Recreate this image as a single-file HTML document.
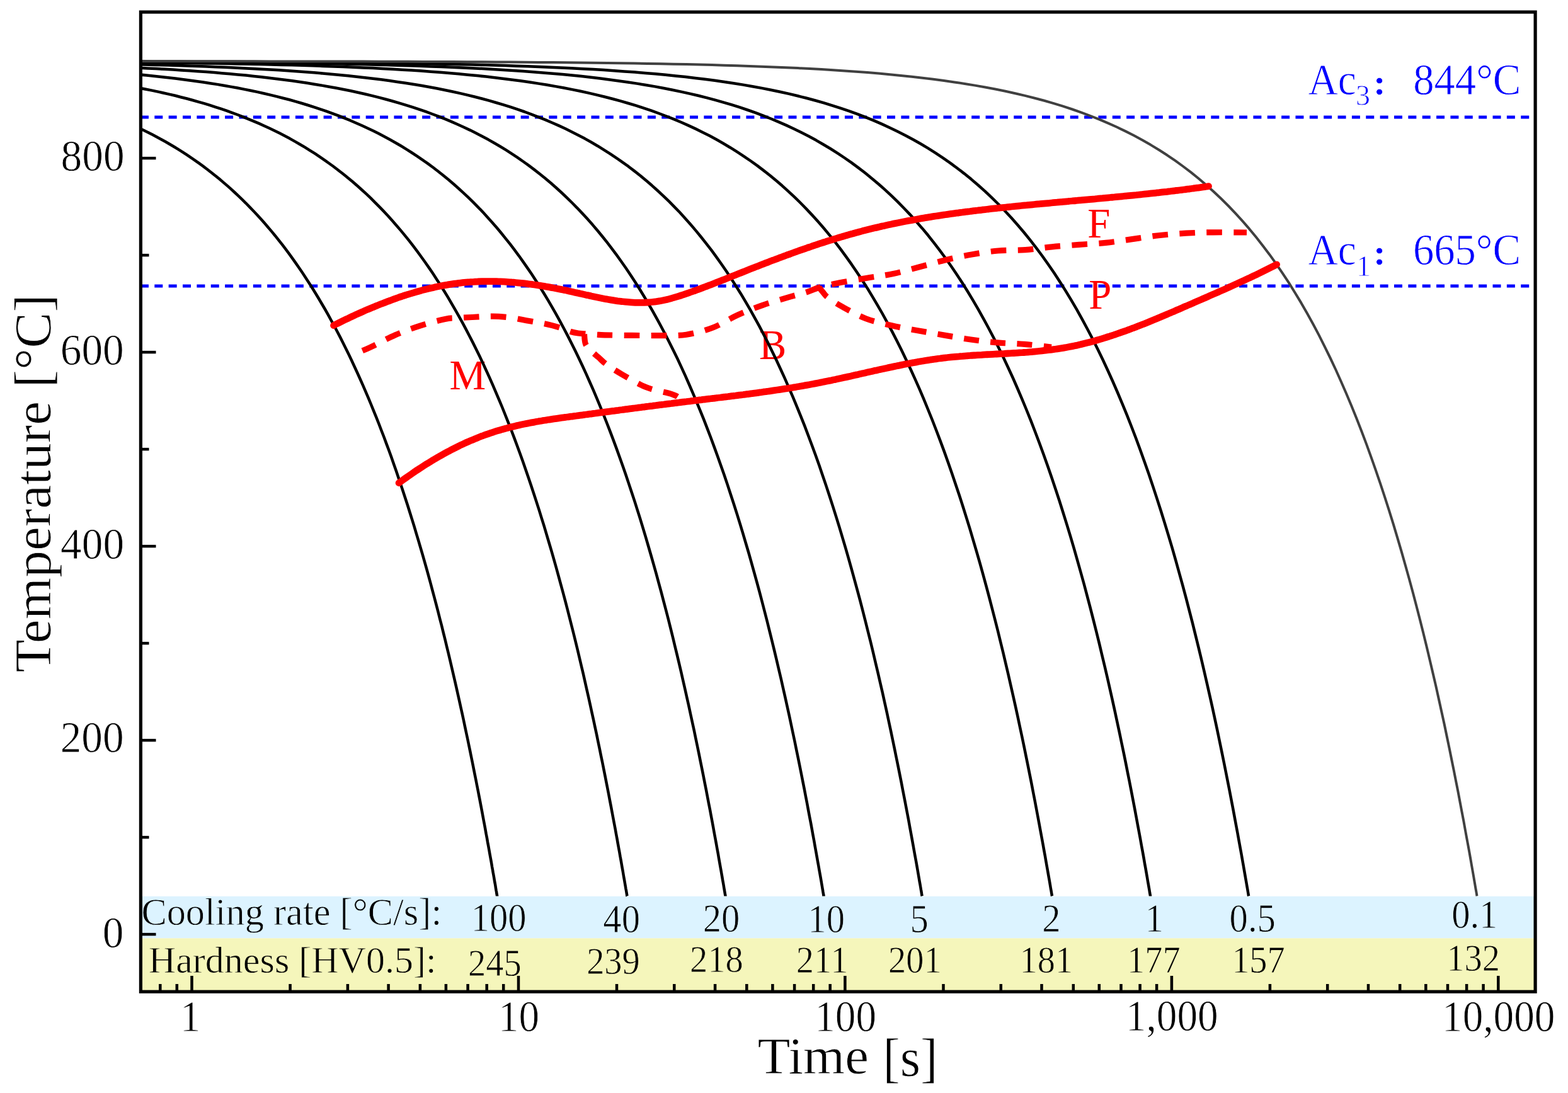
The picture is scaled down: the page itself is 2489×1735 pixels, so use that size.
<!DOCTYPE html>
<html><head><meta charset="utf-8"><title>CCT diagram</title>
<style>html,body{margin:0;padding:0;background:#fff;}svg{display:block;}text{font-family:"Liberation Serif","Times New Roman",serif;}</style>
</head><body>
<svg xmlns="http://www.w3.org/2000/svg" width="2489" height="1735" viewBox="0 0 2489 1735">
<defs><clipPath id="pa"><rect x="226" y="21.7" width="2208.5" height="1549.9"/></clipPath></defs>
<rect x="0" y="0" width="2489" height="1735" fill="#fff"/>
<rect x="223.4" y="1422.8" width="2213.7" height="66.6" fill="#dcf3ff"/>
<rect x="223.4" y="1489.4" width="2213.7" height="84.8" fill="#f5f6bb"/>
<line x1="222.94" y1="186" x2="2427.6" y2="186" stroke="#0000ff" stroke-width="4.8" stroke-dasharray="13 9.36"/>
<line x1="222.94" y1="454" x2="2427.6" y2="454" stroke="#0000ff" stroke-width="4.8" stroke-dasharray="13 9.36"/>
<text transform="matrix(0.9827 0 0 1.0372 713.61 618.25)" font-size="66" fill="#ff0000">M</text>
<text transform="matrix(0.9827 0 0 1.0372 1205.12 570.35)" font-size="66" fill="#ff0000">B</text>
<text transform="matrix(0.9827 0 0 1.0372 1726.36 377.35)" font-size="66" fill="#ff0000">F</text>
<text transform="matrix(0.9827 0 0 1.0372 1728.36 490.45)" font-size="66" fill="#ff0000">P</text>
<g clip-path="url(#pa)" fill="none" stroke-linejoin="round">
<path d="M221,203.4 L228,206.8 L235.1,210.2 L242.1,213.8 L249,217.5 L255.9,221.2 L262.8,225 L269.6,229 L276.4,233 L283.1,237.1 L289.8,241.3 L296.4,245.7 L303,250.1 L309.5,254.6 L316,259.2 L322.5,263.9 L328.9,268.7 L335.3,273.7 L341.6,278.7 L347.9,283.8 L354.1,289.1 L360.3,294.4 L366.5,299.9 L372.6,305.5 L378.6,311.1 L384.6,316.9 L390.6,322.8 L396.5,328.9 L402.4,335 L408.3,341.2 L414,347.6 L419.8,354.1 L425.5,360.7 L431.2,367.4 L436.8,374.2 L442.3,381.2 L447.9,388.2 L453.4,395.4 L458.8,402.7 L464.2,410.1 L469.5,417.6 L474.8,425.3 L480.1,433 L485.3,440.9 L490.5,448.9 L495.6,457 L500.7,465.2 L505.7,473.5 L510.7,482 L515.7,490.5 L520.6,499.2 L525.4,508 L530.3,516.8 L535,525.8 L539.8,534.9 L544.4,544.1 L549.1,553.4 L553.7,562.8 L558.2,572.3 L562.7,582 L567.2,591.7 L571.6,601.5 L576,611.3 L580.3,621.3 L584.6,631.4 L588.8,641.5 L593,651.8 L597.2,662.1 L601.3,672.5 L605.3,683 L609.4,693.5 L613.3,704.1 L617.3,714.8 L621.2,725.6 L625,736.4 L628.8,747.3 L632.5,758.2 L636.2,769.1 L639.9,780.2 L643.5,791.2 L647.1,802.3 L650.6,813.5 L654.1,824.6 L657.6,835.9 L660.9,847.1 L664.3,858.3 L667.6,869.6 L670.9,880.9 L674.1,892.1 L677.3,903.4 L680.4,914.7 L683.5,926 L686.5,937.3 L689.5,948.5 L692.5,959.8 L695.4,971 L698.2,982.2 L701.1,993.3 L703.8,1004.4 L706.6,1015.5 L709.2,1026.5 L711.9,1037.5 L714.5,1048.4 L717,1059.2 L719.5,1070 L722,1080.7 L724.4,1091.3 L726.8,1101.9 L729.1,1112.3 L731.4,1122.7 L733.7,1132.9 L735.9,1143.1 L738,1153.2 L740.1,1163.1 L742.2,1172.9 L744.2,1182.6 L746.2,1192.2 L748.1,1201.6 L750,1210.9 L751.8,1220 L753.6,1229 L755.4,1237.9 L757.1,1246.6 L758.8,1255.1 L760.4,1263.5 L762,1271.7 L763.5,1279.7 L765,1287.5 L766.4,1295.2 L767.8,1302.6 L769.2,1309.9 L770.5,1317 L771.7,1323.9 L773,1330.5 L774.1,1337 L775.3,1343.2 L776.4,1349.3 L777.4,1355.1 L778.4,1360.7 L779.4,1366 L780.3,1371.2 L781.1,1376.1 L782,1380.8 L782.7,1385.2 L783.5,1389.4 L784.2,1393.4 L784.8,1397.1 L785.4,1400.5 L786,1403.7 L786.5,1406.7 L786.9,1409.4 L787.3,1411.9 L787.7,1414.1 L788.1,1416 L788.3,1417.7 L788.6,1419.2 L788.8,1420.3 L788.9,1421.2 L789.1,1421.9 L789.1,1422.3 L789.1,1422.4" stroke="#000" stroke-width="4.5"/>
<path d="M221,139.6 L230.6,141.5 L240.2,143.4 L249.7,145.4 L259.2,147.5 L268.6,149.6 L278,151.8 L287.2,154.2 L296.5,156.5 L305.6,159 L314.7,161.6 L323.8,164.2 L332.8,166.9 L341.7,169.8 L350.6,172.7 L359.4,175.7 L368.1,178.8 L376.8,182 L385.4,185.3 L394,188.8 L402.5,192.3 L410.9,195.9 L419.3,199.7 L427.6,203.5 L435.9,207.5 L444.1,211.6 L452.2,215.8 L460.3,220.1 L468.3,224.6 L476.3,229.2 L484.2,233.9 L492,238.8 L499.8,243.7 L507.5,248.8 L515.1,254.1 L522.7,259.5 L530.3,265 L537.7,270.7 L545.2,276.5 L552.5,282.4 L559.8,288.5 L567,294.8 L574.2,301.2 L581.3,307.7 L588.4,314.4 L595.3,321.3 L602.3,328.3 L609.1,335.4 L616,342.7 L622.7,350.2 L629.4,357.9 L636,365.6 L642.6,373.6 L649.1,381.7 L655.5,389.9 L661.9,398.4 L668.2,407 L674.5,415.7 L680.7,424.6 L686.8,433.6 L692.9,442.9 L698.9,452.2 L704.9,461.8 L710.8,471.4 L716.6,481.3 L722.4,491.3 L728.1,501.4 L733.8,511.7 L739.4,522.1 L744.9,532.7 L750.4,543.4 L755.8,554.3 L761.2,565.3 L766.5,576.4 L771.7,587.7 L776.9,599.1 L782,610.6 L787,622.3 L792,634.1 L797,646 L801.8,658 L806.6,670.1 L811.4,682.3 L816.1,694.6 L820.7,707 L825.3,719.5 L829.8,732.1 L834.2,744.8 L838.6,757.5 L842.9,770.3 L847.2,783.2 L851.4,796.1 L855.6,809.1 L859.6,822.1 L863.7,835.2 L867.6,848.3 L871.5,861.5 L875.4,874.6 L879.2,887.8 L882.9,901 L886.5,914.1 L890.1,927.3 L893.7,940.5 L897.2,953.6 L900.6,966.7 L903.9,979.8 L907.2,992.8 L910.5,1005.8 L913.7,1018.7 L916.8,1031.5 L919.8,1044.3 L922.8,1057 L925.8,1069.6 L928.6,1082.1 L931.4,1094.4 L934.2,1106.7 L936.9,1118.9 L939.5,1130.9 L942.1,1142.7 L944.6,1154.5 L947.1,1166 L949.4,1177.4 L951.8,1188.7 L954,1199.7 L956.3,1210.6 L958.4,1221.3 L960.5,1231.8 L962.5,1242 L964.5,1252.1 L966.4,1261.9 L968.2,1271.5 L970,1280.8 L971.7,1289.9 L973.4,1298.8 L975,1307.3 L976.6,1315.7 L978,1323.7 L979.5,1331.5 L980.8,1339 L982.1,1346.2 L983.4,1353.1 L984.5,1359.7 L985.7,1366 L986.7,1371.9 L987.7,1377.6 L988.7,1383 L989.5,1388 L990.3,1392.7 L991.1,1397 L991.8,1401.1 L992.4,1404.7 L993,1408.1 L993.5,1411.1 L994,1413.7 L994.4,1416 L994.7,1418 L995,1419.6 L995.2,1420.8 L995.3,1421.7 L995.4,1422.2 L995.5,1422.4" stroke="#000" stroke-width="4.5"/>
<path d="M221,118.4 L232.5,119.5 L244.1,120.7 L255.5,121.9 L266.9,123.2 L278.2,124.5 L289.4,125.9 L300.6,127.4 L311.7,128.9 L322.7,130.5 L333.6,132.2 L344.5,133.9 L355.3,135.7 L366,137.6 L376.7,139.5 L387.3,141.6 L397.8,143.7 L408.2,145.9 L418.6,148.2 L428.8,150.6 L439.1,153.1 L449.2,155.7 L459.3,158.3 L469.3,161.1 L479.2,164 L489,167 L498.8,170.1 L508.5,173.3 L518.2,176.7 L527.7,180.1 L537.2,183.7 L546.6,187.4 L556,191.2 L565.2,195.2 L574.4,199.2 L583.5,203.5 L592.6,207.8 L601.6,212.3 L610.5,217 L619.3,221.8 L628.1,226.7 L636.8,231.8 L645.4,237.1 L653.9,242.5 L662.4,248.1 L670.8,253.8 L679.1,259.7 L687.4,265.8 L695.5,272 L703.7,278.4 L711.7,285 L719.6,291.8 L727.5,298.7 L735.3,305.8 L743.1,313.1 L750.8,320.6 L758.4,328.3 L765.9,336.1 L773.3,344.2 L780.7,352.4 L788,360.8 L795.3,369.5 L802.4,378.3 L809.5,387.2 L816.5,396.4 L823.5,405.8 L830.3,415.4 L837.1,425.1 L843.9,435.1 L850.5,445.2 L857.1,455.5 L863.6,466 L870,476.7 L876.4,487.6 L882.7,498.7 L888.9,509.9 L895,521.3 L901.1,532.9 L907.1,544.7 L913,556.6 L918.9,568.7 L924.7,581 L930.4,593.4 L936,606 L941.6,618.7 L947.1,631.6 L952.5,644.6 L957.8,657.7 L963.1,671 L968.3,684.4 L973.4,697.9 L978.5,711.6 L983.4,725.3 L988.4,739.2 L993.2,753.1 L997.9,767.1 L1002.6,781.2 L1007.3,795.4 L1011.8,809.6 L1016.3,823.9 L1020.7,838.3 L1025,852.6 L1029.2,867 L1033.4,881.5 L1037.5,895.9 L1041.6,910.4 L1045.5,924.8 L1049.4,939.2 L1053.2,953.6 L1057,968 L1060.7,982.3 L1064.3,996.6 L1067.8,1010.7 L1071.2,1024.9 L1074.6,1038.9 L1077.9,1052.8 L1081.2,1066.7 L1084.3,1080.4 L1087.4,1094 L1090.4,1107.4 L1093.4,1120.7 L1096.2,1133.9 L1099,1146.8 L1101.8,1159.6 L1104.4,1172.2 L1107,1184.6 L1109.5,1196.8 L1111.9,1208.7 L1114.3,1220.5 L1116.6,1232 L1118.8,1243.2 L1121,1254.2 L1123,1264.9 L1125,1275.3 L1127,1285.4 L1128.8,1295.2 L1130.6,1304.7 L1132.3,1313.9 L1133.9,1322.8 L1135.5,1331.3 L1137,1339.5 L1138.4,1347.4 L1139.8,1354.9 L1141,1362 L1142.2,1368.8 L1143.3,1375.1 L1144.4,1381.1 L1145.4,1386.8 L1146.3,1392 L1147.1,1396.8 L1147.9,1401.2 L1148.6,1405.2 L1149.2,1408.8 L1149.7,1412 L1150.2,1414.7 L1150.6,1417.1 L1150.9,1419 L1151.2,1420.5 L1151.4,1421.6 L1151.5,1422.2 L1151.5,1422.4" stroke="#000" stroke-width="4.5"/>
<path d="M221,107.7 L234.5,108.4 L247.9,109.1 L261.3,109.8 L274.6,110.6 L287.8,111.4 L300.9,112.3 L314,113.2 L326.9,114.1 L339.8,115.1 L352.5,116.2 L365.2,117.3 L377.8,118.4 L390.4,119.6 L402.8,120.9 L415.1,122.3 L427.4,123.7 L439.6,125.2 L451.7,126.7 L463.7,128.3 L475.6,130 L487.5,131.8 L499.2,133.7 L510.9,135.6 L522.5,137.7 L534,139.8 L545.4,142 L556.8,144.3 L568,146.7 L579.2,149.3 L590.2,151.9 L601.2,154.6 L612.1,157.5 L623,160.5 L633.7,163.6 L644.4,166.8 L654.9,170.1 L665.4,173.6 L675.8,177.2 L686.1,181 L696.4,184.9 L706.5,188.9 L716.6,193.1 L726.5,197.5 L736.4,202 L746.2,206.6 L756,211.5 L765.6,216.5 L775.1,221.6 L784.6,227 L794,232.5 L803.3,238.2 L812.5,244.1 L821.6,250.2 L830.7,256.5 L839.6,262.9 L848.5,269.6 L857.3,276.5 L866,283.5 L874.6,290.8 L883.1,298.3 L891.6,306 L899.9,313.9 L908.2,322 L916.4,330.3 L924.5,338.9 L932.5,347.6 L940.5,356.6 L948.3,365.8 L956.1,375.3 L963.8,384.9 L971.4,394.8 L978.9,404.9 L986.3,415.2 L993.7,425.8 L1000.9,436.6 L1008.1,447.5 L1015.2,458.8 L1022.2,470.2 L1029.1,481.8 L1035.9,493.7 L1042.7,505.8 L1049.3,518 L1055.9,530.5 L1062.4,543.2 L1068.8,556.1 L1075.2,569.1 L1081.4,582.4 L1087.6,595.9 L1093.6,609.5 L1099.6,623.3 L1105.5,637.3 L1111.3,651.4 L1117.1,665.7 L1122.7,680.1 L1128.3,694.7 L1133.7,709.4 L1139.1,724.2 L1144.4,739.2 L1149.7,754.3 L1154.8,769.4 L1159.8,784.7 L1164.8,800 L1169.7,815.4 L1174.5,830.9 L1179.2,846.4 L1183.8,862 L1188.4,877.5 L1192.8,893.1 L1197.2,908.8 L1201.5,924.4 L1205.7,939.9 L1209.8,955.5 L1213.8,971 L1217.8,986.5 L1221.6,1001.9 L1225.4,1017.2 L1229.1,1032.4 L1232.7,1047.5 L1236.2,1062.5 L1239.7,1077.3 L1243,1092 L1246.3,1106.6 L1249.5,1121 L1252.6,1135.1 L1255.6,1149.1 L1258.5,1162.9 L1261.4,1176.4 L1264.1,1189.8 L1266.8,1202.8 L1269.4,1215.6 L1271.9,1228.1 L1274.3,1240.3 L1276.7,1252.2 L1278.9,1263.8 L1281.1,1275.1 L1283.1,1286 L1285.1,1296.6 L1287.1,1306.8 L1288.9,1316.7 L1290.6,1326.2 L1292.3,1335.2 L1293.8,1343.9 L1295.3,1352.1 L1296.7,1360 L1298,1367.4 L1299.3,1374.3 L1300.4,1380.9 L1301.5,1386.9 L1302.5,1392.5 L1303.4,1397.7 L1304.2,1402.3 L1304.9,1406.5 L1305.5,1410.2 L1306.1,1413.5 L1306.5,1416.2 L1306.9,1418.4 L1307.2,1420.2 L1307.4,1421.4 L1307.6,1422.2 L1307.6,1422.4" stroke="#000" stroke-width="4.5"/>
<path d="M221,102.4 L236.4,102.8 L251.8,103.2 L267.1,103.6 L282.3,104.1 L297.4,104.6 L312.4,105.1 L327.3,105.6 L342.1,106.2 L356.8,106.8 L371.4,107.5 L386,108.2 L400.4,108.9 L414.7,109.7 L428.9,110.5 L443,111.3 L457.1,112.3 L471,113.2 L484.8,114.3 L498.6,115.3 L512.2,116.5 L525.8,117.7 L539.2,118.9 L552.6,120.3 L565.8,121.7 L579,123.2 L592,124.7 L605,126.3 L617.8,128.1 L630.6,129.9 L643.3,131.8 L655.9,133.8 L668.3,135.8 L680.7,138 L693,140.3 L705.2,142.7 L717.3,145.3 L729.3,147.9 L741.1,150.6 L752.9,153.5 L764.6,156.5 L776.2,159.7 L787.7,163 L799.2,166.4 L810.5,169.9 L821.7,173.7 L832.8,177.5 L843.8,181.6 L854.7,185.8 L865.6,190.1 L876.3,194.7 L886.9,199.4 L897.5,204.3 L907.9,209.4 L918.2,214.7 L928.5,220.1 L938.6,225.8 L948.7,231.7 L958.6,237.8 L968.5,244.1 L978.2,250.6 L987.9,257.3 L997.5,264.2 L1006.9,271.4 L1016.3,278.8 L1025.6,286.5 L1034.7,294.3 L1043.8,302.5 L1052.8,310.8 L1061.7,319.4 L1070.5,328.3 L1079.2,337.3 L1087.7,346.7 L1096.2,356.3 L1104.6,366.1 L1112.9,376.2 L1121.1,386.6 L1129.3,397.2 L1137.3,408.1 L1145.2,419.2 L1153,430.6 L1160.7,442.2 L1168.3,454.1 L1175.9,466.2 L1183.3,478.6 L1190.6,491.2 L1197.8,504.1 L1205,517.2 L1212,530.5 L1219,544.1 L1225.8,557.9 L1232.6,571.9 L1239.2,586.2 L1245.8,600.6 L1252.2,615.3 L1258.6,630.1 L1264.8,645.1 L1271,660.3 L1277.1,675.7 L1283,691.3 L1288.9,707 L1294.7,722.8 L1300.4,738.8 L1305.9,754.9 L1311.4,771.1 L1316.8,787.5 L1322.1,803.9 L1327.3,820.4 L1332.4,836.9 L1337.4,853.6 L1342.3,870.2 L1347.1,886.9 L1351.8,903.6 L1356.4,920.3 L1360.9,936.9 L1365.4,953.6 L1369.7,970.2 L1373.9,986.7 L1378,1003.2 L1382.1,1019.5 L1386,1035.8 L1389.8,1051.9 L1393.6,1067.9 L1397.2,1083.7 L1400.8,1099.3 L1404.2,1114.8 L1407.6,1130.1 L1410.8,1145.1 L1414,1159.9 L1417,1174.4 L1420,1188.7 L1422.8,1202.6 L1425.6,1216.3 L1428.3,1229.7 L1430.9,1242.7 L1433.3,1255.3 L1435.7,1267.6 L1438,1279.6 L1440.2,1291.1 L1442.3,1302.2 L1444.2,1312.9 L1446.1,1323.2 L1447.9,1333 L1449.6,1342.4 L1451.2,1351.3 L1452.7,1359.7 L1454.2,1367.6 L1455.5,1375 L1456.7,1381.9 L1457.8,1388.3 L1458.8,1394.2 L1459.7,1399.5 L1460.6,1404.3 L1461.3,1408.5 L1461.9,1412.2 L1462.5,1415.3 L1462.9,1417.9 L1463.2,1419.9 L1463.5,1421.3 L1463.6,1422.1 L1463.7,1422.4" stroke="#000" stroke-width="4.5"/>
<path d="M221,99.2 L239,99.4 L257,99.6 L274.8,99.8 L292.5,100 L310.1,100.3 L327.6,100.5 L345,100.8 L362.2,101.1 L379.4,101.4 L396.4,101.7 L413.3,102.1 L430.2,102.5 L446.9,102.9 L463.4,103.3 L479.9,103.8 L496.3,104.3 L512.5,104.9 L528.6,105.4 L544.7,106 L560.6,106.7 L576.4,107.4 L592,108.1 L607.6,108.9 L623.1,109.8 L638.4,110.7 L653.6,111.6 L668.7,112.6 L683.7,113.7 L698.6,114.8 L713.4,116 L728.1,117.3 L742.6,118.7 L757,120.1 L771.4,121.6 L785.6,123.2 L799.7,124.9 L813.6,126.7 L827.5,128.5 L841.3,130.5 L854.9,132.6 L868.4,134.8 L881.8,137.1 L895.1,139.5 L908.3,142.1 L921.4,144.8 L934.4,147.6 L947.2,150.6 L960,153.7 L972.6,157 L985.1,160.4 L997.5,164 L1009.8,167.7 L1021.9,171.6 L1034,175.7 L1045.9,180 L1057.8,184.5 L1069.5,189.2 L1081.1,194 L1092.6,199.1 L1104,204.4 L1115.2,209.9 L1126.4,215.6 L1137.4,221.6 L1148.3,227.8 L1159.1,234.2 L1169.8,240.9 L1180.4,247.8 L1190.9,255 L1201.3,262.4 L1211.5,270.1 L1221.6,278 L1231.6,286.3 L1241.6,294.8 L1251.3,303.6 L1261,312.6 L1270.6,322 L1280,331.6 L1289.4,341.6 L1298.6,351.8 L1307.7,362.3 L1316.7,373.1 L1325.6,384.2 L1334.4,395.6 L1343,407.4 L1351.6,419.4 L1360,431.7 L1368.3,444.3 L1376.6,457.1 L1384.6,470.3 L1392.6,483.8 L1400.5,497.5 L1408.2,511.6 L1415.9,525.9 L1423.4,540.5 L1430.8,555.3 L1438.1,570.4 L1445.3,585.8 L1452.4,601.4 L1459.4,617.2 L1466.2,633.2 L1472.9,649.5 L1479.6,666 L1486.1,682.7 L1492.5,699.6 L1498.8,716.6 L1504.9,733.8 L1511,751.2 L1516.9,768.7 L1522.8,786.3 L1528.5,804 L1534.1,821.9 L1539.6,839.7 L1544.9,857.7 L1550.2,875.7 L1555.4,893.7 L1560.4,911.7 L1565.3,929.7 L1570.1,947.7 L1574.8,965.7 L1579.4,983.5 L1583.9,1001.3 L1588.2,1019 L1592.5,1036.5 L1596.6,1053.9 L1600.6,1071.1 L1604.5,1088.2 L1608.3,1105 L1612,1121.6 L1615.6,1138 L1619,1154.1 L1622.4,1169.9 L1625.6,1185.3 L1628.7,1200.5 L1631.7,1215.3 L1634.6,1229.7 L1637.4,1243.8 L1640,1257.4 L1642.6,1270.6 L1645,1283.3 L1647.3,1295.6 L1649.5,1307.4 L1651.6,1318.8 L1653.6,1329.6 L1655.5,1339.8 L1657.2,1349.5 L1658.9,1358.7 L1660.4,1367.3 L1661.8,1375.3 L1663.1,1382.7 L1664.3,1389.5 L1665.4,1395.7 L1666.4,1401.3 L1667.2,1406.2 L1667.9,1410.5 L1668.6,1414.1 L1669.1,1417.1 L1669.5,1419.4 L1669.8,1421.1 L1669.9,1422.1 L1670,1422.4" stroke="#000" stroke-width="4.5"/>
<path d="M221,98.2 L241,98.3 L260.8,98.4 L280.6,98.5 L300.2,98.6 L319.7,98.7 L339.1,98.9 L358.3,99.1 L377.4,99.2 L396.4,99.4 L415.3,99.6 L434.1,99.8 L452.7,100.1 L471.2,100.3 L489.6,100.6 L507.8,100.9 L525.9,101.2 L543.9,101.6 L561.8,101.9 L579.5,102.3 L597.1,102.7 L614.6,103.2 L632,103.7 L649.2,104.2 L666.4,104.8 L683.4,105.4 L700.2,106 L717,106.7 L733.6,107.5 L750.1,108.2 L766.4,109.1 L782.7,110 L798.8,110.9 L814.8,112 L830.6,113 L846.4,114.2 L862,115.4 L877.5,116.7 L892.8,118.1 L908.1,119.6 L923.2,121.1 L938.2,122.8 L953,124.5 L967.8,126.4 L982.4,128.4 L996.9,130.4 L1011.2,132.6 L1025.4,135 L1039.6,137.4 L1053.5,140 L1067.4,142.7 L1081.1,145.6 L1094.7,148.6 L1108.2,151.8 L1121.6,155.1 L1134.8,158.6 L1147.9,162.3 L1160.9,166.2 L1173.7,170.2 L1186.5,174.5 L1199.1,178.9 L1211.5,183.6 L1223.9,188.5 L1236.1,193.6 L1248.2,198.9 L1260.2,204.5 L1272,210.3 L1283.8,216.3 L1295.4,222.6 L1306.8,229.2 L1318.2,236 L1329.4,243.1 L1340.5,250.5 L1351.5,258.1 L1362.3,266.1 L1373,274.3 L1383.6,282.9 L1394.1,291.7 L1404.5,300.9 L1414.7,310.3 L1424.8,320.1 L1434.7,330.2 L1444.6,340.6 L1454.3,351.4 L1463.9,362.4 L1473.4,373.8 L1482.7,385.6 L1491.9,397.6 L1501,410 L1510,422.7 L1518.8,435.7 L1527.5,449.1 L1536.1,462.8 L1544.6,476.8 L1552.9,491.1 L1561.1,505.8 L1569.2,520.7 L1577.2,536 L1585,551.5 L1592.7,567.3 L1600.3,583.5 L1607.8,599.8 L1615.1,616.5 L1622.3,633.4 L1629.4,650.5 L1636.4,667.9 L1643.2,685.5 L1649.9,703.3 L1656.5,721.3 L1663,739.4 L1669.3,757.8 L1675.5,776.2 L1681.6,794.8 L1687.5,813.5 L1693.4,832.3 L1699.1,851.2 L1704.7,870.1 L1710.1,889.1 L1715.4,908 L1720.7,927 L1725.7,945.9 L1730.7,964.8 L1735.5,983.6 L1740.2,1002.3 L1744.8,1020.9 L1749.2,1039.4 L1753.6,1057.7 L1757.8,1075.7 L1761.8,1093.6 L1765.8,1111.3 L1769.6,1128.6 L1773.3,1145.7 L1776.9,1162.5 L1780.3,1178.9 L1783.7,1195 L1786.9,1210.7 L1789.9,1226 L1792.9,1240.9 L1795.7,1255.3 L1798.4,1269.3 L1801,1282.7 L1803.4,1295.7 L1805.7,1308.1 L1807.9,1319.9 L1810,1331.2 L1811.9,1341.9 L1813.8,1352 L1815.5,1361.5 L1817,1370.3 L1818.5,1378.5 L1819.8,1386 L1821,1392.9 L1822,1399 L1823,1404.5 L1823.8,1409.2 L1824.5,1413.2 L1825,1416.5 L1825.5,1419.1 L1825.8,1420.9 L1826,1422.1 L1826,1422.4" stroke="#000" stroke-width="4.5"/>
<path d="M221,97.6 L242.9,97.7 L264.7,97.7 L286.4,97.8 L307.9,97.9 L329.3,98 L350.6,98 L371.7,98.1 L392.7,98.2 L413.5,98.3 L434.2,98.5 L454.8,98.6 L475.2,98.7 L495.5,98.9 L515.7,99.1 L535.7,99.2 L555.6,99.4 L575.3,99.7 L594.9,99.9 L614.4,100.1 L633.7,100.4 L652.9,100.7 L672,101 L690.9,101.4 L709.7,101.8 L728.3,102.2 L746.8,102.6 L765.2,103.1 L783.4,103.6 L801.5,104.1 L819.5,104.7 L837.3,105.3 L855,106 L872.5,106.7 L889.9,107.5 L907.2,108.3 L924.3,109.2 L941.3,110.1 L958.2,111.1 L974.9,112.2 L991.5,113.4 L1007.9,114.6 L1024.2,115.9 L1040.4,117.3 L1056.4,118.8 L1072.3,120.4 L1088.1,122.1 L1103.7,123.9 L1119.1,125.8 L1134.5,127.8 L1149.7,130 L1164.8,132.2 L1179.7,134.6 L1194.5,137.2 L1209.1,139.9 L1223.6,142.7 L1238,145.8 L1252.3,148.9 L1266.4,152.3 L1280.3,155.8 L1294.2,159.5 L1307.9,163.4 L1321.4,167.6 L1334.8,171.9 L1348.1,176.4 L1361.2,181.2 L1374.2,186.2 L1387.1,191.4 L1399.8,196.9 L1412.4,202.7 L1424.9,208.7 L1437.2,214.9 L1449.4,221.5 L1461.4,228.3 L1473.3,235.4 L1485.1,242.8 L1496.7,250.6 L1508.2,258.6 L1519.5,267 L1530.7,275.6 L1541.8,284.6 L1552.8,294 L1563.6,303.6 L1574.2,313.7 L1584.8,324 L1595.1,334.7 L1605.4,345.8 L1615.5,357.2 L1625.5,369 L1635.3,381.2 L1645,393.7 L1654.6,406.5 L1664,419.8 L1673.3,433.3 L1682.4,447.3 L1691.5,461.6 L1700.3,476.2 L1709.1,491.2 L1717.7,506.6 L1726.1,522.3 L1734.5,538.3 L1742.6,554.6 L1750.7,571.3 L1758.6,588.2 L1766.4,605.5 L1774,623 L1781.5,640.8 L1788.9,658.9 L1796.1,677.2 L1803.2,695.8 L1810.1,714.5 L1816.9,733.5 L1823.6,752.6 L1830.1,771.9 L1836.5,791.4 L1842.8,811 L1848.9,830.6 L1854.9,850.4 L1860.8,870.2 L1866.5,890.1 L1872,910 L1877.5,929.8 L1882.8,949.6 L1887.9,969.4 L1893,989.1 L1897.8,1008.6 L1902.6,1028.1 L1907.2,1047.3 L1911.7,1066.4 L1916,1085.2 L1920.2,1103.8 L1924.3,1122.1 L1928.2,1140.1 L1932,1157.8 L1935.6,1175.1 L1939.1,1192 L1942.5,1208.6 L1945.7,1224.6 L1948.8,1240.2 L1951.8,1255.4 L1954.6,1270 L1957.3,1284 L1959.8,1297.5 L1962.2,1310.4 L1964.5,1322.7 L1966.6,1334.4 L1968.6,1345.4 L1970.5,1355.7 L1972.2,1365.4 L1973.8,1374.3 L1975.2,1382.5 L1976.5,1390 L1977.7,1396.8 L1978.7,1402.7 L1979.6,1407.9 L1980.4,1412.3 L1981,1416 L1981.5,1418.8 L1981.8,1420.8 L1982,1422 L1982.1,1422.4" stroke="#000" stroke-width="4.5"/>
<path d="M221,97.2 L247.4,97.2 L273.7,97.2 L299.8,97.3 L325.8,97.3 L351.6,97.3 L377.2,97.3 L402.7,97.3 L428,97.4 L453.1,97.4 L478.1,97.4 L502.9,97.5 L527.5,97.5 L552,97.6 L576.3,97.6 L600.5,97.7 L624.4,97.7 L648.2,97.8 L671.9,97.9 L695.3,98 L718.7,98.1 L741.8,98.2 L764.8,98.3 L787.6,98.4 L810.2,98.6 L832.7,98.7 L855,98.9 L877.2,99.1 L899.2,99.3 L921,99.5 L942.6,99.7 L964.1,100 L985.4,100.3 L1006.6,100.6 L1027.6,100.9 L1048.4,101.3 L1069,101.7 L1089.5,102.1 L1109.9,102.6 L1130,103.1 L1150,103.7 L1169.8,104.3 L1189.5,104.9 L1209,105.7 L1228.3,106.4 L1247.5,107.2 L1266.5,108.1 L1285.3,109.1 L1304,110.1 L1322.5,111.3 L1340.8,112.5 L1359,113.7 L1377,115.1 L1394.8,116.6 L1412.5,118.2 L1430,119.9 L1447.3,121.7 L1464.5,123.7 L1481.5,125.8 L1498.3,128 L1515,130.4 L1531.5,132.9 L1547.8,135.6 L1564,138.5 L1580,141.5 L1595.9,144.8 L1611.5,148.2 L1627.1,151.9 L1642.4,155.7 L1657.6,159.8 L1672.6,164.1 L1687.4,168.7 L1702.1,173.5 L1716.6,178.6 L1731,184 L1745.2,189.6 L1759.2,195.6 L1773,201.8 L1786.7,208.4 L1800.3,215.3 L1813.6,222.5 L1826.8,230.1 L1839.8,238 L1852.7,246.3 L1865.4,254.9 L1877.9,264 L1890.3,273.4 L1902.5,283.2 L1914.5,293.4 L1926.3,304 L1938,315 L1949.6,326.5 L1960.9,338.4 L1972.1,350.7 L1983.2,363.4 L1994,376.6 L2004.7,390.2 L2015.3,404.2 L2025.6,418.7 L2035.8,433.6 L2045.9,448.9 L2055.7,464.7 L2065.5,480.9 L2075,497.5 L2084.4,514.5 L2093.6,531.9 L2102.6,549.8 L2111.5,568 L2120.2,586.5 L2128.7,605.5 L2137.1,624.7 L2145.3,644.3 L2153.4,664.2 L2161.3,684.4 L2169,704.9 L2176.5,725.6 L2183.9,746.6 L2191.1,767.7 L2198.2,789.1 L2205.1,810.6 L2211.8,832.2 L2218.3,853.9 L2224.7,875.6 L2230.9,897.5 L2237,919.3 L2242.9,941.1 L2248.6,962.8 L2254.2,984.4 L2259.6,1005.9 L2264.8,1027.3 L2269.8,1048.4 L2274.7,1069.3 L2279.5,1089.9 L2284,1110.3 L2288.4,1130.2 L2292.7,1149.8 L2296.7,1169 L2300.6,1187.7 L2304.3,1206 L2307.9,1223.7 L2311.3,1240.8 L2314.6,1257.4 L2317.6,1273.3 L2320.5,1288.6 L2323.3,1303.1 L2325.8,1317 L2328.2,1330.1 L2330.5,1342.4 L2332.6,1353.9 L2334.5,1364.6 L2336.2,1374.5 L2337.8,1383.5 L2339.2,1391.5 L2340.4,1398.7 L2341.5,1405 L2342.4,1410.3 L2343.2,1414.6 L2343.8,1418 L2344.2,1420.5 L2344.4,1421.9 L2344.5,1422.4" stroke="#404040" stroke-width="4"/>
</g>
<g fill="none" stroke="#ff0000">
<path d="M529.6,516.6 C530.6,516.1 533.6,514.5 535.6,513.6 C537.6,512.6 539.6,511.6 541.6,510.6 C543.6,509.6 545.6,508.6 547.6,507.7 C549.6,506.7 551.6,505.8 553.7,504.8 C555.7,503.9 557.7,502.9 559.7,502 C561.7,501.1 563.7,500.1 565.7,499.2 C567.7,498.3 569.7,497.4 571.7,496.5 C573.7,495.6 575.7,494.7 577.7,493.8 C579.7,493 581.7,492.1 583.7,491.2 C585.7,490.4 587.7,489.5 589.7,488.7 C591.7,487.8 593.7,487 595.7,486.2 C597.7,485.4 599.7,484.5 601.8,483.7 C603.8,482.9 605.8,482.2 607.8,481.4 C609.8,480.6 611.8,479.8 613.8,479.1 C615.8,478.3 617.8,477.5 619.8,476.8 C621.8,476.1 623.8,475.3 625.8,474.6 C627.8,473.9 629.8,473.2 631.8,472.5 C633.8,471.8 635.8,471.1 637.8,470.5 C639.8,469.8 641.8,469.1 643.8,468.5 C645.8,467.9 647.8,467.2 649.9,466.6 C651.9,466 653.9,465.4 655.9,464.8 C657.9,464.2 659.9,463.6 661.9,463 C663.9,462.5 665.9,461.9 667.9,461.4 C669.9,460.8 671.9,460.3 673.9,459.8 C675.9,459.3 677.9,458.8 679.9,458.3 C681.9,457.8 683.9,457.3 685.9,456.9 C687.9,456.4 689.9,456 691.9,455.5 C693.9,455.1 695.9,454.7 698,454.3 C700,453.9 702,453.5 704,453.1 C706,452.8 708,452.4 710,452.1 C712,451.7 714,451.4 716,451.1 C718,450.8 720,450.5 722,450.2 C724,449.9 726,449.7 728,449.4 C730,449.2 732,448.9 734,448.7 C736,448.5 738,448.3 740,448.1 C742,448 744,447.8 746.1,447.7 C748.1,447.5 750.1,447.4 752.1,447.3 C754.1,447.1 756.1,447 758.1,447 C760.1,446.9 762.1,446.8 764.1,446.7 C766.1,446.7 768.1,446.6 770.1,446.6 C772.1,446.6 774.1,446.6 776.1,446.6 C778.1,446.6 780.1,446.6 782.1,446.6 C784.1,446.6 786.1,446.7 788.1,446.7 C790.1,446.8 792.1,446.9 794.2,446.9 C796.2,447 798.2,447.1 800.2,447.2 C802.2,447.3 804.2,447.5 806.2,447.6 C808.2,447.7 810.2,447.9 812.2,448 C814.2,448.2 816.2,448.3 818.2,448.5 C820.2,448.7 822.2,448.9 824.2,449.1 C826.2,449.3 828.2,449.5 830.2,449.7 C832.2,450 834.2,450.2 836.2,450.4 C838.2,450.7 840.2,450.9 842.3,451.2 C844.3,451.5 846.3,451.8 848.3,452 C850.3,452.3 852.3,452.6 854.3,452.9 C856.3,453.2 858.3,453.6 860.3,453.9 C862.3,454.2 864.3,454.5 866.3,454.9 C868.3,455.2 870.3,455.6 872.3,455.9 C874.3,456.3 876.3,456.7 878.3,457 C880.3,457.4 882.3,457.8 884.3,458.2 C886.3,458.6 888.3,459 890.4,459.4 C892.4,459.8 894.4,460.2 896.4,460.6 C898.4,461.1 900.4,461.5 902.4,461.9 C904.4,462.4 906.4,462.8 908.4,463.2 C910.4,463.7 912.4,464.1 914.4,464.6 C916.4,465 918.4,465.5 920.4,465.9 C922.4,466.4 924.4,466.8 926.4,467.3 C928.4,467.7 930.4,468.2 932.4,468.6 C934.4,469.1 936.4,469.5 938.5,470 C940.5,470.4 942.5,470.8 944.5,471.3 C946.5,471.7 948.5,472.1 950.5,472.5 C952.5,472.9 954.5,473.3 956.5,473.7 C958.5,474.1 960.5,474.5 962.5,474.8 C964.5,475.2 966.5,475.6 968.5,475.9 C970.5,476.2 972.5,476.6 974.5,476.9 C976.5,477.2 978.5,477.5 980.5,477.8 C982.5,478 984.5,478.3 986.6,478.5 C988.6,478.8 990.6,479 992.6,479.2 C994.6,479.4 996.6,479.6 998.6,479.7 C1000.6,479.9 1002.6,480 1004.6,480.1 C1006.6,480.2 1008.6,480.3 1010.6,480.3 C1012.6,480.4 1014.6,480.4 1016.6,480.4 C1018.6,480.4 1020.6,480.4 1022.6,480.3 C1024.6,480.2 1026.6,480.1 1028.6,480 C1030.6,479.9 1032.7,479.7 1034.7,479.5 C1036.7,479.3 1038.7,479.1 1040.7,478.8 C1042.7,478.6 1044.7,478.3 1046.7,477.9 C1048.7,477.6 1050.7,477.2 1052.7,476.8 C1054.7,476.4 1056.7,476 1058.7,475.5 C1060.7,475 1062.7,474.5 1064.7,473.9 C1066.7,473.4 1068.7,472.8 1070.7,472.2 C1072.7,471.6 1074.7,471 1076.7,470.4 C1078.7,469.8 1080.8,469.1 1082.8,468.4 C1084.8,467.8 1086.8,467.1 1088.8,466.4 C1090.8,465.7 1092.8,465 1094.8,464.3 C1096.8,463.6 1098.8,462.9 1100.8,462.2 C1102.8,461.5 1104.8,460.7 1106.8,460 C1108.8,459.3 1110.8,458.5 1112.8,457.8 C1114.8,457 1116.8,456.3 1118.8,455.5 C1120.8,454.8 1122.8,454 1124.8,453.2 C1126.8,452.5 1128.9,451.7 1130.9,450.9 C1132.9,450.1 1134.9,449.4 1136.9,448.6 C1138.9,447.8 1140.9,447 1142.9,446.2 C1144.9,445.4 1146.9,444.6 1148.9,443.9 C1150.9,443.1 1152.9,442.3 1154.9,441.5 C1156.9,440.7 1158.9,439.9 1160.9,439.1 C1162.9,438.3 1164.9,437.5 1166.9,436.7 C1168.9,435.9 1170.9,435.1 1172.9,434.3 C1174.9,433.5 1177,432.7 1179,431.9 C1181,431.1 1183,430.3 1185,429.5 C1187,428.7 1189,427.9 1191,427.1 C1193,426.3 1195,425.5 1197,424.7 C1199,423.9 1201,423.2 1203,422.4 C1205,421.6 1207,420.8 1209,420 C1211,419.3 1213,418.5 1215,417.7 C1217,417 1219,416.2 1221,415.4 C1223,414.7 1225.1,413.9 1227.1,413.1 C1229.1,412.4 1231.1,411.6 1233.1,410.9 C1235.1,410.1 1237.1,409.4 1239.1,408.6 C1241.1,407.9 1243.1,407.1 1245.1,406.4 C1247.1,405.7 1249.1,404.9 1251.1,404.2 C1253.1,403.5 1255.1,402.7 1257.1,402 C1259.1,401.3 1261.1,400.6 1263.1,399.8 C1265.1,399.1 1267.1,398.4 1269.1,397.7 C1271.1,397 1273.2,396.3 1275.2,395.6 C1277.2,394.9 1279.2,394.2 1281.2,393.5 C1283.2,392.8 1285.2,392.2 1287.2,391.5 C1289.2,390.8 1291.2,390.1 1293.2,389.4 C1295.2,388.8 1297.2,388.1 1299.2,387.4 C1301.2,386.8 1303.2,386.1 1305.2,385.5 C1307.2,384.8 1309.2,384.2 1311.2,383.5 C1313.2,382.9 1315.2,382.3 1317.2,381.6 C1319.2,381 1321.3,380.4 1323.3,379.8 C1325.3,379.2 1327.3,378.5 1329.3,377.9 C1331.3,377.3 1333.3,376.7 1335.3,376.1 C1337.3,375.5 1339.3,375 1341.3,374.4 C1343.3,373.8 1345.3,373.2 1347.3,372.6 C1349.3,372.1 1351.3,371.5 1353.3,371 C1355.3,370.4 1357.3,369.8 1359.3,369.3 C1361.3,368.8 1363.3,368.2 1365.3,367.7 C1367.3,367.2 1369.4,366.6 1371.4,366.1 C1373.4,365.6 1375.4,365.1 1377.4,364.6 C1379.4,364.1 1381.4,363.6 1383.4,363.1 C1385.4,362.6 1387.4,362.1 1389.4,361.6 C1391.4,361.2 1393.4,360.7 1395.4,360.2 C1397.4,359.8 1399.4,359.3 1401.4,358.8 C1403.4,358.4 1405.4,357.9 1407.4,357.5 C1409.4,357.1 1411.4,356.6 1413.4,356.2 C1415.4,355.8 1417.5,355.3 1419.5,354.9 C1421.5,354.5 1423.5,354.1 1425.5,353.7 C1427.5,353.3 1429.5,352.9 1431.5,352.5 C1433.5,352.1 1435.5,351.7 1437.5,351.3 C1439.5,350.9 1441.5,350.5 1443.5,350.2 C1445.5,349.8 1447.5,349.4 1449.5,349.1 C1451.5,348.7 1453.5,348.3 1455.5,348 C1457.5,347.6 1459.5,347.3 1461.5,346.9 C1463.6,346.6 1465.6,346.2 1467.6,345.9 C1469.6,345.6 1471.6,345.2 1473.6,344.9 C1475.6,344.6 1477.6,344.3 1479.6,343.9 C1481.6,343.6 1483.6,343.3 1485.6,343 C1487.6,342.7 1489.6,342.4 1491.6,342.1 C1493.6,341.8 1495.6,341.5 1497.6,341.2 C1499.6,340.9 1501.6,340.6 1503.6,340.3 C1505.6,340 1507.6,339.7 1509.6,339.4 C1511.7,339.2 1513.7,338.9 1515.7,338.6 C1517.7,338.3 1519.7,338.1 1521.7,337.8 C1523.7,337.5 1525.7,337.3 1527.7,337 C1529.7,336.7 1531.7,336.5 1533.7,336.2 C1535.7,336 1537.7,335.7 1539.7,335.5 C1541.7,335.2 1543.7,335 1545.7,334.7 C1547.7,334.5 1549.7,334.2 1551.7,334 C1553.7,333.8 1555.7,333.5 1557.7,333.3 C1559.8,333.1 1561.8,332.8 1563.8,332.6 C1565.8,332.4 1567.8,332.1 1569.8,331.9 C1571.8,331.7 1573.8,331.5 1575.8,331.2 C1577.8,331 1579.8,330.8 1581.8,330.6 C1583.8,330.4 1585.8,330.1 1587.8,329.9 C1589.8,329.7 1591.8,329.5 1593.8,329.3 C1595.8,329.1 1597.8,328.9 1599.8,328.7 C1601.8,328.5 1603.8,328.2 1605.8,328 C1607.9,327.8 1609.9,327.6 1611.9,327.4 C1613.9,327.2 1615.9,327 1617.9,326.8 C1619.9,326.6 1621.9,326.4 1623.9,326.2 C1625.9,326 1627.9,325.8 1629.9,325.7 C1631.9,325.5 1633.9,325.3 1635.9,325.1 C1637.9,324.9 1639.9,324.7 1641.9,324.5 C1643.9,324.3 1645.9,324.1 1647.9,323.9 C1649.9,323.7 1651.9,323.6 1653.9,323.4 C1656,323.2 1658,323 1660,322.8 C1662,322.6 1664,322.4 1666,322.3 C1668,322.1 1670,321.9 1672,321.7 C1674,321.5 1676,321.3 1678,321.2 C1680,321 1682,320.8 1684,320.6 C1686,320.4 1688,320.3 1690,320.1 C1692,319.9 1694,319.7 1696,319.5 C1698,319.4 1700,319.2 1702,319 C1704.1,318.8 1706.1,318.6 1708.1,318.5 C1710.1,318.3 1712.1,318.1 1714.1,317.9 C1716.1,317.7 1718.1,317.6 1720.1,317.4 C1722.1,317.2 1724.1,317 1726.1,316.8 C1728.1,316.7 1730.1,316.5 1732.1,316.3 C1734.1,316.1 1736.1,315.9 1738.1,315.8 C1740.1,315.6 1742.1,315.4 1744.1,315.2 C1746.1,315 1748.1,314.8 1750.1,314.7 C1752.2,314.5 1754.2,314.3 1756.2,314.1 C1758.2,313.9 1760.2,313.7 1762.2,313.5 C1764.2,313.3 1766.2,313.2 1768.2,313 C1770.2,312.8 1772.2,312.6 1774.2,312.4 C1776.2,312.2 1778.2,312 1780.2,311.8 C1782.2,311.6 1784.2,311.4 1786.2,311.2 C1788.2,311 1790.2,310.9 1792.2,310.7 C1794.2,310.5 1796.2,310.3 1798.2,310.1 C1800.3,309.9 1802.3,309.7 1804.3,309.5 C1806.3,309.2 1808.3,309 1810.3,308.8 C1812.3,308.6 1814.3,308.4 1816.3,308.2 C1818.3,308 1820.3,307.8 1822.3,307.6 C1824.3,307.4 1826.3,307.2 1828.3,306.9 C1830.3,306.7 1832.3,306.5 1834.3,306.3 C1836.3,306.1 1838.3,305.8 1840.3,305.6 C1842.3,305.4 1844.3,305.2 1846.3,304.9 C1848.4,304.7 1850.4,304.5 1852.4,304.3 C1854.4,304 1856.4,303.8 1858.4,303.5 C1860.4,303.3 1862.4,303.1 1864.4,302.8 C1866.4,302.6 1868.4,302.3 1870.4,302.1 C1872.4,301.9 1874.4,301.6 1876.4,301.4 C1878.4,301.1 1880.4,300.9 1882.4,300.6 C1884.4,300.3 1886.4,300.1 1888.4,299.8 C1890.4,299.6 1892.4,299.3 1894.4,299 C1896.5,298.8 1898.5,298.5 1900.5,298.2 C1902.5,297.9 1904.5,297.7 1906.5,297.4 C1908.5,297.1 1910.5,296.8 1912.5,296.6 C1914.5,296.3 1917.5,295.8 1918.5,295.7" stroke-width="10.8" stroke-linecap="round" stroke-linejoin="round"/>
<path d="M633.1,766.7 C634.1,765.9 637.1,763.7 639.1,762.3 C641.1,760.8 643.1,759.4 645.1,758 C647.1,756.6 649.1,755.2 651.1,753.8 C653.1,752.4 655.1,751 657.1,749.6 C659.1,748.3 661.1,746.9 663.1,745.6 C665.1,744.3 667.1,743 669.1,741.7 C671.1,740.4 673.1,739.1 675.1,737.8 C677.1,736.6 679.1,735.3 681.2,734.1 C683.2,732.9 685.2,731.6 687.2,730.4 C689.2,729.2 691.2,728.1 693.2,726.9 C695.2,725.7 697.2,724.6 699.2,723.4 C701.2,722.3 703.2,721.2 705.2,720.1 C707.2,719 709.2,717.9 711.2,716.8 C713.2,715.7 715.2,714.7 717.2,713.6 C719.2,712.6 721.2,711.6 723.2,710.6 C725.2,709.6 727.2,708.6 729.2,707.6 C731.2,706.7 733.2,705.7 735.2,704.8 C737.2,703.9 739.2,702.9 741.2,702 C743.2,701.1 745.2,700.3 747.2,699.4 C749.2,698.5 751.2,697.7 753.2,696.9 C755.2,696 757.2,695.2 759.2,694.4 C761.2,693.6 763.2,692.9 765.2,692.1 C767.2,691.4 769.2,690.6 771.2,689.9 C773.3,689.2 775.3,688.5 777.3,687.8 C779.3,687.1 781.3,686.5 783.3,685.8 C785.3,685.2 787.3,684.6 789.3,683.9 C791.3,683.3 793.3,682.7 795.3,682.2 C797.3,681.6 799.3,681 801.3,680.5 C803.3,679.9 805.3,679.4 807.3,678.9 C809.3,678.4 811.3,677.8 813.3,677.4 C815.3,676.9 817.3,676.4 819.3,675.9 C821.3,675.5 823.3,675 825.3,674.6 C827.3,674.1 829.3,673.7 831.3,673.3 C833.3,672.9 835.3,672.5 837.3,672.1 C839.3,671.7 841.3,671.3 843.3,670.9 C845.3,670.5 847.3,670.1 849.3,669.8 C851.3,669.4 853.3,669.1 855.3,668.7 C857.3,668.4 859.3,668.1 861.3,667.7 C863.3,667.4 865.4,667.1 867.4,666.8 C869.4,666.5 871.4,666.1 873.4,665.8 C875.4,665.5 877.4,665.2 879.4,664.9 C881.4,664.7 883.4,664.4 885.4,664.1 C887.4,663.8 889.4,663.5 891.4,663.2 C893.4,663 895.4,662.7 897.4,662.4 C899.4,662.1 901.4,661.9 903.4,661.6 C905.4,661.3 907.4,661.1 909.4,660.8 C911.4,660.5 913.4,660.3 915.4,660 C917.4,659.7 919.4,659.5 921.4,659.2 C923.4,658.9 925.4,658.7 927.4,658.4 C929.4,658.1 931.4,657.9 933.4,657.6 C935.4,657.3 937.4,657.1 939.4,656.8 C941.4,656.5 943.4,656.3 945.4,656 C947.4,655.7 949.4,655.5 951.4,655.2 C953.4,655 955.4,654.7 957.4,654.4 C959.5,654.2 961.5,653.9 963.5,653.6 C965.5,653.4 967.5,653.1 969.5,652.8 C971.5,652.6 973.5,652.3 975.5,652.1 C977.5,651.8 979.5,651.5 981.5,651.3 C983.5,651 985.5,650.7 987.5,650.5 C989.5,650.2 991.5,650 993.5,649.7 C995.5,649.4 997.5,649.2 999.5,648.9 C1001.5,648.7 1003.5,648.4 1005.5,648.1 C1007.5,647.9 1009.5,647.6 1011.5,647.4 C1013.5,647.1 1015.5,646.8 1017.5,646.6 C1019.5,646.3 1021.5,646.1 1023.5,645.8 C1025.5,645.5 1027.5,645.3 1029.5,645 C1031.5,644.8 1033.5,644.5 1035.5,644.3 C1037.5,644 1039.5,643.8 1041.5,643.5 C1043.5,643.2 1045.5,643 1047.5,642.7 C1049.5,642.5 1051.6,642.2 1053.6,642 C1055.6,641.7 1057.6,641.5 1059.6,641.2 C1061.6,641 1063.6,640.7 1065.6,640.5 C1067.6,640.2 1069.6,640 1071.6,639.7 C1073.6,639.5 1075.6,639.2 1077.6,639 C1079.6,638.7 1081.6,638.5 1083.6,638.2 C1085.6,638 1087.6,637.7 1089.6,637.5 C1091.6,637.2 1093.6,637 1095.6,636.8 C1097.6,636.5 1099.6,636.3 1101.6,636 C1103.6,635.8 1105.6,635.5 1107.6,635.3 C1109.6,635.1 1111.6,634.8 1113.6,634.6 C1115.6,634.3 1117.6,634.1 1119.6,633.8 C1121.6,633.6 1123.6,633.4 1125.6,633.1 C1127.6,632.9 1129.6,632.6 1131.6,632.4 C1133.6,632.2 1135.6,631.9 1137.6,631.7 C1139.6,631.4 1141.6,631.2 1143.6,631 C1145.7,630.7 1147.7,630.5 1149.7,630.2 C1151.7,630 1153.7,629.7 1155.7,629.5 C1157.7,629.2 1159.7,629 1161.7,628.7 C1163.7,628.5 1165.7,628.2 1167.7,628 C1169.7,627.7 1171.7,627.5 1173.7,627.2 C1175.7,627 1177.7,626.7 1179.7,626.5 C1181.7,626.2 1183.7,626 1185.7,625.7 C1187.7,625.4 1189.7,625.2 1191.7,624.9 C1193.7,624.7 1195.7,624.4 1197.7,624.1 C1199.7,623.9 1201.7,623.6 1203.7,623.3 C1205.7,623 1207.7,622.8 1209.7,622.5 C1211.7,622.2 1213.7,621.9 1215.7,621.7 C1217.7,621.4 1219.7,621.1 1221.7,620.8 C1223.7,620.5 1225.7,620.2 1227.7,619.9 C1229.7,619.6 1231.7,619.3 1233.7,619 C1235.7,618.7 1237.8,618.4 1239.8,618.1 C1241.8,617.8 1243.8,617.5 1245.8,617.2 C1247.8,616.9 1249.8,616.6 1251.8,616.2 C1253.8,615.9 1255.8,615.6 1257.8,615.3 C1259.8,614.9 1261.8,614.6 1263.8,614.3 C1265.8,613.9 1267.8,613.6 1269.8,613.2 C1271.8,612.9 1273.8,612.6 1275.8,612.2 C1277.8,611.8 1279.8,611.5 1281.8,611.1 C1283.8,610.8 1285.8,610.4 1287.8,610 C1289.8,609.6 1291.8,609.3 1293.8,608.9 C1295.8,608.5 1297.8,608.1 1299.8,607.7 C1301.8,607.3 1303.8,606.9 1305.8,606.5 C1307.8,606.1 1309.8,605.7 1311.8,605.3 C1313.8,604.9 1315.8,604.5 1317.8,604.1 C1319.8,603.7 1321.8,603.2 1323.8,602.8 C1325.8,602.4 1327.8,601.9 1329.8,601.5 C1331.9,601.1 1333.9,600.6 1335.9,600.2 C1337.9,599.8 1339.9,599.3 1341.9,598.9 C1343.9,598.4 1345.9,598 1347.9,597.6 C1349.9,597.1 1351.9,596.7 1353.9,596.2 C1355.9,595.8 1357.9,595.3 1359.9,594.9 C1361.9,594.4 1363.9,594 1365.9,593.5 C1367.9,593.1 1369.9,592.6 1371.9,592.2 C1373.9,591.7 1375.9,591.3 1377.9,590.8 C1379.9,590.3 1381.9,589.9 1383.9,589.5 C1385.9,589 1387.9,588.6 1389.9,588.1 C1391.9,587.7 1393.9,587.2 1395.9,586.8 C1397.9,586.3 1399.9,585.9 1401.9,585.5 C1403.9,585 1405.9,584.6 1407.9,584.2 C1409.9,583.7 1411.9,583.3 1413.9,582.9 C1415.9,582.4 1417.9,582 1419.9,581.6 C1421.9,581.2 1424,580.8 1426,580.4 C1428,579.9 1430,579.5 1432,579.1 C1434,578.7 1436,578.3 1438,577.9 C1440,577.6 1442,577.2 1444,576.8 C1446,576.4 1448,576 1450,575.7 C1452,575.3 1454,574.9 1456,574.6 C1458,574.2 1460,573.9 1462,573.5 C1464,573.2 1466,572.9 1468,572.5 C1470,572.2 1472,571.9 1474,571.6 C1476,571.3 1478,570.9 1480,570.7 C1482,570.4 1484,570.1 1486,569.8 C1488,569.5 1490,569.2 1492,569 C1494,568.7 1496,568.5 1498,568.2 C1500,568 1502,567.7 1504,567.5 C1506,567.3 1508,567.1 1510,566.9 C1512,566.7 1514,566.5 1516.1,566.3 C1518.1,566.1 1520.1,565.9 1522.1,565.8 C1524.1,565.6 1526.1,565.4 1528.1,565.3 C1530.1,565.1 1532.1,564.9 1534.1,564.8 C1536.1,564.7 1538.1,564.5 1540.1,564.4 C1542.1,564.2 1544.1,564.1 1546.1,564 C1548.1,563.9 1550.1,563.7 1552.1,563.6 C1554.1,563.5 1556.1,563.4 1558.1,563.3 C1560.1,563.1 1562.1,563 1564.1,562.9 C1566.1,562.8 1568.1,562.7 1570.1,562.6 C1572.1,562.5 1574.1,562.4 1576.1,562.3 C1578.1,562.2 1580.1,562.1 1582.1,562 C1584.1,561.9 1586.1,561.8 1588.1,561.7 C1590.1,561.6 1592.1,561.5 1594.1,561.4 C1596.1,561.2 1598.1,561.1 1600.1,561 C1602.1,560.9 1604.1,560.8 1606.1,560.7 C1608.1,560.6 1610.2,560.4 1612.2,560.3 C1614.2,560.2 1616.2,560.1 1618.2,559.9 C1620.2,559.8 1622.2,559.7 1624.2,559.5 C1626.2,559.4 1628.2,559.2 1630.2,559.1 C1632.2,558.9 1634.2,558.8 1636.2,558.6 C1638.2,558.4 1640.2,558.3 1642.2,558.1 C1644.2,557.9 1646.2,557.7 1648.2,557.5 C1650.2,557.3 1652.2,557.1 1654.2,556.9 C1656.2,556.7 1658.2,556.5 1660.2,556.2 C1662.2,556 1664.2,555.8 1666.2,555.5 C1668.2,555.2 1670.2,555 1672.2,554.7 C1674.2,554.4 1676.2,554.1 1678.2,553.8 C1680.2,553.5 1682.2,553.2 1684.2,552.9 C1686.2,552.6 1688.2,552.3 1690.2,551.9 C1692.2,551.6 1694.2,551.2 1696.2,550.8 C1698.2,550.4 1700.2,550 1702.3,549.6 C1704.3,549.2 1706.3,548.8 1708.3,548.4 C1710.3,547.9 1712.3,547.5 1714.3,547 C1716.3,546.6 1718.3,546.1 1720.3,545.6 C1722.3,545.1 1724.3,544.6 1726.3,544.1 C1728.3,543.6 1730.3,543.1 1732.3,542.5 C1734.3,542 1736.3,541.4 1738.3,540.9 C1740.3,540.3 1742.3,539.7 1744.3,539.1 C1746.3,538.5 1748.3,537.9 1750.3,537.3 C1752.3,536.7 1754.3,536.1 1756.3,535.5 C1758.3,534.8 1760.3,534.2 1762.3,533.5 C1764.3,532.9 1766.3,532.2 1768.3,531.6 C1770.3,530.9 1772.3,530.2 1774.3,529.5 C1776.3,528.8 1778.3,528.1 1780.3,527.4 C1782.3,526.7 1784.3,526 1786.3,525.3 C1788.3,524.6 1790.3,523.8 1792.3,523.1 C1794.3,522.3 1796.4,521.6 1798.4,520.8 C1800.4,520.1 1802.4,519.3 1804.4,518.6 C1806.4,517.8 1808.4,517 1810.4,516.2 C1812.4,515.4 1814.4,514.7 1816.4,513.9 C1818.4,513.1 1820.4,512.3 1822.4,511.5 C1824.4,510.7 1826.4,509.8 1828.4,509 C1830.4,508.2 1832.4,507.4 1834.4,506.6 C1836.4,505.7 1838.4,504.9 1840.4,504.1 C1842.4,503.2 1844.4,502.4 1846.4,501.5 C1848.4,500.7 1850.4,499.9 1852.4,499 C1854.4,498.2 1856.4,497.3 1858.4,496.4 C1860.4,495.6 1862.4,494.7 1864.4,493.9 C1866.4,493 1868.4,492.1 1870.4,491.3 C1872.4,490.4 1874.4,489.5 1876.4,488.7 C1878.4,487.8 1880.4,486.9 1882.4,486.1 C1884.4,485.2 1886.4,484.3 1888.5,483.4 C1890.5,482.6 1892.5,481.7 1894.5,480.8 C1896.5,480 1898.5,479.1 1900.5,478.2 C1902.5,477.3 1904.5,476.5 1906.5,475.6 C1908.5,474.7 1910.5,473.8 1912.5,473 C1914.5,472.1 1916.5,471.2 1918.5,470.3 C1920.5,469.5 1922.5,468.6 1924.5,467.7 C1926.5,466.8 1928.5,466 1930.5,465.1 C1932.5,464.2 1934.5,463.3 1936.5,462.4 C1938.5,461.5 1940.5,460.7 1942.5,459.8 C1944.5,458.9 1946.5,458 1948.5,457.1 C1950.5,456.2 1952.5,455.3 1954.5,454.4 C1956.5,453.5 1958.5,452.6 1960.5,451.7 C1962.5,450.8 1964.5,449.9 1966.5,448.9 C1968.5,448 1970.5,447.1 1972.5,446.2 C1974.5,445.3 1976.5,444.3 1978.5,443.4 C1980.6,442.5 1982.6,441.5 1984.6,440.6 C1986.6,439.6 1988.6,438.7 1990.6,437.7 C1992.6,436.8 1994.6,435.8 1996.6,434.8 C1998.6,433.9 2000.6,432.9 2002.6,431.9 C2004.6,430.9 2006.6,429.9 2008.6,428.9 C2010.6,427.9 2012.6,426.9 2014.6,425.9 C2016.6,424.9 2018.6,423.9 2020.6,422.9 C2022.6,421.8 2025.6,420.3 2026.6,419.8" stroke-width="10.8" stroke-linecap="round" stroke-linejoin="round"/>
<path d="M575.3,556.7 C577.4,555.8 579,555.5 587.7,551.4 C596.4,547.2 614.5,537.5 627.5,531.8 C640.5,526.1 652.8,521.6 666,517.4 C679.2,513.2 696.3,508.5 706.6,506.4 C716.9,504.3 720.8,505.1 728,504.6 C735.2,504.1 742.6,503.9 749.6,503.5 C756.6,503.1 763,502.6 770,502.4 C777,502.2 784.5,502 791.7,502.4 C798.9,502.8 805.7,503.4 813,504.5 C820.3,505.6 828.1,507.4 835.3,508.7 C842.5,510 849.1,511 856,512.3 C862.9,513.6 870.3,515.1 876.5,516.6 C882.7,518.1 888.1,519.9 893,521.5 C897.9,523.1 901.8,525.2 906,526.5 C910.2,527.8 914.2,528.5 918,529 C921.8,529.5 924.2,529.4 929,529.8 C933.8,530.2 941.8,530.9 947,531.2 C952.2,531.5 950.6,531.6 960,531.8 C969.4,532 989,532.3 1003.3,532.4 C1017.6,532.5 1031.7,532.8 1046,532.6 C1060.3,532.4 1075.1,533.3 1089.4,531.2 C1103.7,529.1 1118.1,525.2 1131.7,520 C1145.3,514.8 1157.9,505.9 1171.1,500 C1184.3,494.1 1197.5,488.9 1210.8,484.3 C1224.1,479.7 1239.3,475.5 1250.7,472.1 C1262.1,468.7 1271.1,466.7 1279.3,464.1 C1287.5,461.5 1292.4,458.8 1299.9,456.5 C1307.4,454.2 1311.8,453.1 1324.3,450.6 C1336.8,448.1 1359.4,444.2 1375,441.5 C1390.6,438.8 1403.9,437.5 1418,434.5 C1432.1,431.5 1445.8,427.3 1459.6,423.7 C1473.4,420.1 1487,416.1 1500.8,412.8 C1514.6,409.5 1528.3,406.5 1542.3,404 C1556.3,401.5 1570.4,399.2 1584.6,398 C1598.8,396.8 1613.3,397.6 1627.5,396.6 C1641.7,395.6 1655.5,393.2 1669.7,391.8 C1683.9,390.4 1698.5,389.5 1712.7,388.4 C1727,387.3 1741.2,386.9 1755.2,385.4 C1769.2,383.9 1783,381.6 1797,379.6 C1811,377.7 1824.8,375.3 1839.1,373.7 C1853.4,372.1 1868.2,371 1882.6,370.2 C1897,369.4 1909.3,369 1925.4,368.8 C1941.5,368.6 1970.1,369 1979,369" stroke-width="9.2" stroke-dasharray="24.6 18.4" stroke-dashoffset="1.4"/>
<path d="M927.5,530.5 C927.8,533.1 927.7,541.6 929.5,546 C931.3,550.4 935,553.4 938.5,557 C942,560.6 946.5,564.1 950.5,567.7 C954.5,571.3 956.6,574 962.6,578.4 C968.6,582.8 976.2,587.8 986.8,593.9 C997.4,600 1012.6,609.5 1026,614.8 C1039.3,620.1 1058.1,622.9 1066.9,625.8 C1075.7,628.7 1077,631 1079,632" stroke-width="9.2" stroke-dasharray="24 18.3" stroke-dashoffset="6"/>
<path d="M1300,456 C1301.1,457.3 1304.2,461.3 1306.5,464 C1308.8,466.7 1308.9,468.2 1314,472 C1319.1,475.8 1327.1,481.4 1337.2,487 C1347.3,492.6 1361.4,500.7 1374.5,505.7 C1387.6,510.7 1401.9,513.6 1415.6,516.8 C1429.3,520 1442.9,522.2 1456.8,524.7 C1470.7,527.2 1484.9,529.7 1498.9,532.1 C1513,534.5 1527,537 1541.1,539 C1555.1,541 1569,542.7 1583.2,543.9 C1597.4,545.1 1612,545.2 1626.3,546.4 C1640.6,547.6 1661.9,550.2 1669,551" stroke-width="9.2" stroke-dasharray="24 18.3" stroke-dashoffset="4"/>
</g>
<g stroke="#000" stroke-width="4.5">
<line x1="304.5" y1="1549" x2="304.5" y2="1574.2"/>
<line x1="823" y1="1549" x2="823" y2="1574.2"/>
<line x1="1341.4" y1="1549" x2="1341.4" y2="1574.2"/>
<line x1="1859.9" y1="1549" x2="1859.9" y2="1574.2"/>
<line x1="2378.3" y1="1549" x2="2378.3" y2="1574.2"/>
<line x1="254.3" y1="1562" x2="254.3" y2="1574.2"/>
<line x1="280.8" y1="1562" x2="280.8" y2="1574.2"/>
<line x1="460.6" y1="1562" x2="460.6" y2="1574.2"/>
<line x1="551.9" y1="1562" x2="551.9" y2="1574.2"/>
<line x1="616.6" y1="1562" x2="616.6" y2="1574.2"/>
<line x1="666.9" y1="1562" x2="666.9" y2="1574.2"/>
<line x1="707.9" y1="1562" x2="707.9" y2="1574.2"/>
<line x1="742.6" y1="1562" x2="742.6" y2="1574.2"/>
<line x1="772.7" y1="1562" x2="772.7" y2="1574.2"/>
<line x1="799.2" y1="1562" x2="799.2" y2="1574.2"/>
<line x1="979" y1="1562" x2="979" y2="1574.2"/>
<line x1="1070.3" y1="1562" x2="1070.3" y2="1574.2"/>
<line x1="1135.1" y1="1562" x2="1135.1" y2="1574.2"/>
<line x1="1185.3" y1="1562" x2="1185.3" y2="1574.2"/>
<line x1="1226.4" y1="1562" x2="1226.4" y2="1574.2"/>
<line x1="1261.1" y1="1562" x2="1261.1" y2="1574.2"/>
<line x1="1291.2" y1="1562" x2="1291.2" y2="1574.2"/>
<line x1="1317.7" y1="1562" x2="1317.7" y2="1574.2"/>
<line x1="1497.5" y1="1562" x2="1497.5" y2="1574.2"/>
<line x1="1588.8" y1="1562" x2="1588.8" y2="1574.2"/>
<line x1="1653.5" y1="1562" x2="1653.5" y2="1574.2"/>
<line x1="1703.8" y1="1562" x2="1703.8" y2="1574.2"/>
<line x1="1744.8" y1="1562" x2="1744.8" y2="1574.2"/>
<line x1="1779.5" y1="1562" x2="1779.5" y2="1574.2"/>
<line x1="1809.6" y1="1562" x2="1809.6" y2="1574.2"/>
<line x1="1836.1" y1="1562" x2="1836.1" y2="1574.2"/>
<line x1="2015.9" y1="1562" x2="2015.9" y2="1574.2"/>
<line x1="2107.2" y1="1562" x2="2107.2" y2="1574.2"/>
<line x1="2172" y1="1562" x2="2172" y2="1574.2"/>
<line x1="2222.2" y1="1562" x2="2222.2" y2="1574.2"/>
<line x1="2263.3" y1="1562" x2="2263.3" y2="1574.2"/>
<line x1="2298" y1="1562" x2="2298" y2="1574.2"/>
<line x1="2328.1" y1="1562" x2="2328.1" y2="1574.2"/>
<line x1="2354.6" y1="1562" x2="2354.6" y2="1574.2"/>
<line x1="223.4" y1="1483.1" x2="247.5" y2="1483.1"/>
<line x1="223.4" y1="1175.1" x2="247.5" y2="1175.1"/>
<line x1="223.4" y1="867.1" x2="247.5" y2="867.1"/>
<line x1="223.4" y1="559.1" x2="247.5" y2="559.1"/>
<line x1="223.4" y1="251.1" x2="247.5" y2="251.1"/>
<line x1="223.4" y1="1329.1" x2="236.5" y2="1329.1"/>
<line x1="223.4" y1="1021.1" x2="236.5" y2="1021.1"/>
<line x1="223.4" y1="713.1" x2="236.5" y2="713.1"/>
<line x1="223.4" y1="405.1" x2="236.5" y2="405.1"/>
</g>
<rect x="223.4" y="19.1" width="2213.7" height="1555.1" fill="none" stroke="#000" stroke-width="5.2"/>
<text transform="matrix(1.0208 0 0 1.0459 96.57 271.24)" font-size="66" fill="#000" stroke="#fff" stroke-width="0.8">800</text>
<text transform="matrix(1.0208 0 0 1.0459 95.70 579.49)" font-size="66" fill="#000" stroke="#fff" stroke-width="0.8">600</text>
<text transform="matrix(1.0208 0 0 1.0459 96.04 886.89)" font-size="66" fill="#000" stroke="#fff" stroke-width="0.8">400</text>
<text transform="matrix(1.0208 0 0 1.0459 95.67 1194.28)" font-size="66" fill="#000" stroke="#fff" stroke-width="0.8">200</text>
<text transform="matrix(1.0208 0 0 1.0459 162.83 1503.56)" font-size="66" fill="#000" stroke="#fff" stroke-width="0.8">0</text>
<text transform="matrix(0.9884 0 0 1.0679 285.95 1637.11)" font-size="66" fill="#000" stroke="#fff" stroke-width="0.8">1</text>
<text transform="matrix(0.9884 0 0 1.0679 790.95 1636.91)" font-size="66" fill="#000" stroke="#fff" stroke-width="0.8">10</text>
<text transform="matrix(0.9884 0 0 1.0679 1293.24 1636.86)" font-size="66" fill="#000" stroke="#fff" stroke-width="0.8">100</text>
<text transform="matrix(0.9884 0 0 1.0679 1786.93 1636.32)" font-size="66" fill="#000" stroke="#fff" stroke-width="0.8">1,000</text>
<text transform="matrix(0.9884 0 0 1.0679 2289.07 1636.62)" font-size="66" fill="#000" stroke="#fff" stroke-width="0.8">10,000</text>
<text transform="matrix(1.0006 0 0 0.9754 1202.50 1703.52)" font-size="85" fill="#000" stroke="#fff" stroke-width="0.8">Time</text>
<text transform="matrix(0.9766 0 0 1.0271 1401.14 1708.40)" font-size="85" fill="#000" stroke="#fff" stroke-width="0.8">[s]</text>
<text transform="translate(79.85 1067.51) rotate(-90) scale(1.0060 0.9805)" font-size="85" fill="#000" stroke="#fff" stroke-width="0.8">Temperature [°C]</text>
<text transform="matrix(1.0060 0 0 1.0060 224.38 1468.25)" font-size="60" fill="#000" stroke="#dcf3ff" stroke-width="0.8">Cooling rate [°C/s]:</text>
<text transform="matrix(1.0011 0 0 1.0011 235.80 1544.15)" font-size="60" fill="#000" stroke="#f5f6bb" stroke-width="0.8">Hardness [HV0.5]:</text>
<text transform="matrix(0.9774 0 0 1.0538 747.70 1477.90)" font-size="60" fill="#000" stroke="#dcf3ff" stroke-width="0.8">100</text>
<text transform="matrix(0.9774 0 0 1.0538 957.32 1480.10)" font-size="60" fill="#000" stroke="#dcf3ff" stroke-width="0.8">40</text>
<text transform="matrix(0.9774 0 0 1.0538 1115.64 1478.55)" font-size="60" fill="#000" stroke="#dcf3ff" stroke-width="0.8">20</text>
<text transform="matrix(0.9774 0 0 1.0538 1282.31 1479.80)" font-size="60" fill="#000" stroke="#dcf3ff" stroke-width="0.8">10</text>
<text transform="matrix(0.9774 0 0 1.0538 1444.56 1479.80)" font-size="60" fill="#000" stroke="#dcf3ff" stroke-width="0.8">5</text>
<text transform="matrix(0.9774 0 0 1.0538 1654.24 1478.55)" font-size="60" fill="#000" stroke="#dcf3ff" stroke-width="0.8">2</text>
<text transform="matrix(0.9774 0 0 1.0538 1817.65 1478.55)" font-size="60" fill="#000" stroke="#dcf3ff" stroke-width="0.8">1</text>
<text transform="matrix(0.9774 0 0 1.0538 1951.60 1478.55)" font-size="60" fill="#000" stroke="#dcf3ff" stroke-width="0.8">0.5</text>
<text transform="matrix(0.9774 0 0 1.0538 2304.13 1472.50)" font-size="60" fill="#000" stroke="#dcf3ff" stroke-width="0.8">0.1</text>
<text transform="matrix(0.9412 0 0 1.0154 742.98 1549.00)" font-size="60" fill="#000" stroke="#f5f6bb" stroke-width="0.8">245</text>
<text transform="matrix(0.9412 0 0 1.0154 931.13 1545.65)" font-size="60" fill="#000" stroke="#f5f6bb" stroke-width="0.8">239</text>
<text transform="matrix(0.9412 0 0 1.0154 1094.98 1543.35)" font-size="60" fill="#000" stroke="#f5f6bb" stroke-width="0.8">218</text>
<text transform="matrix(0.9412 0 0 1.0154 1263.81 1544.10)" font-size="60" fill="#000" stroke="#f5f6bb" stroke-width="0.8">211</text>
<text transform="matrix(0.9412 0 0 1.0154 1409.97 1544.10)" font-size="60" fill="#000" stroke="#f5f6bb" stroke-width="0.8">201</text>
<text transform="matrix(0.9412 0 0 1.0154 1618.48 1544.10)" font-size="60" fill="#000" stroke="#f5f6bb" stroke-width="0.8">181</text>
<text transform="matrix(0.9412 0 0 1.0154 1788.99 1544.10)" font-size="60" fill="#000" stroke="#f5f6bb" stroke-width="0.8">177</text>
<text transform="matrix(0.9412 0 0 1.0154 1955.14 1544.10)" font-size="60" fill="#000" stroke="#f5f6bb" stroke-width="0.8">157</text>
<text transform="matrix(0.9412 0 0 1.0154 2296.21 1540.70)" font-size="60" fill="#000" stroke="#f5f6bb" stroke-width="0.8">132</text>
<text transform="matrix(0.9494 0 0 1.0109 2076.55 150.25)" font-size="69" fill="#0000ff" stroke="#fff" stroke-width="0.8">Ac</text>
<text transform="matrix(0.9494 0 0 1.0109 2076.55 420.25)" font-size="69" fill="#0000ff" stroke="#fff" stroke-width="0.8">Ac</text>
<text transform="matrix(1.0000 0 0 1.0097 2152.00 167.00)" font-size="46" fill="#0000ff" stroke="#fff" stroke-width="0.8">3</text>
<text transform="matrix(1.0000 0 0 1.0097 2153.00 437.50)" font-size="46" fill="#0000ff" stroke="#fff" stroke-width="0.8">1</text>
<text transform="matrix(1.0400 0 0 0.9370 2179.40 149.70)" font-size="60" fill="#0000ff" font-weight="bold" stroke="#fff" stroke-width="0.8">:</text>
<text transform="matrix(1.0400 0 0 0.9370 2179.40 420.10)" font-size="60" fill="#0000ff" font-weight="bold" stroke="#fff" stroke-width="0.8">:</text>
<text transform="matrix(0.9653 0 0 1.0207 2243.25 150.03)" font-size="69" fill="#0000ff" stroke="#fff" stroke-width="0.8">844°C</text>
<text transform="matrix(0.9653 0 0 1.0207 2242.95 420.48)" font-size="69" fill="#0000ff" stroke="#fff" stroke-width="0.8">665°C</text>
</svg>
</body></html>
